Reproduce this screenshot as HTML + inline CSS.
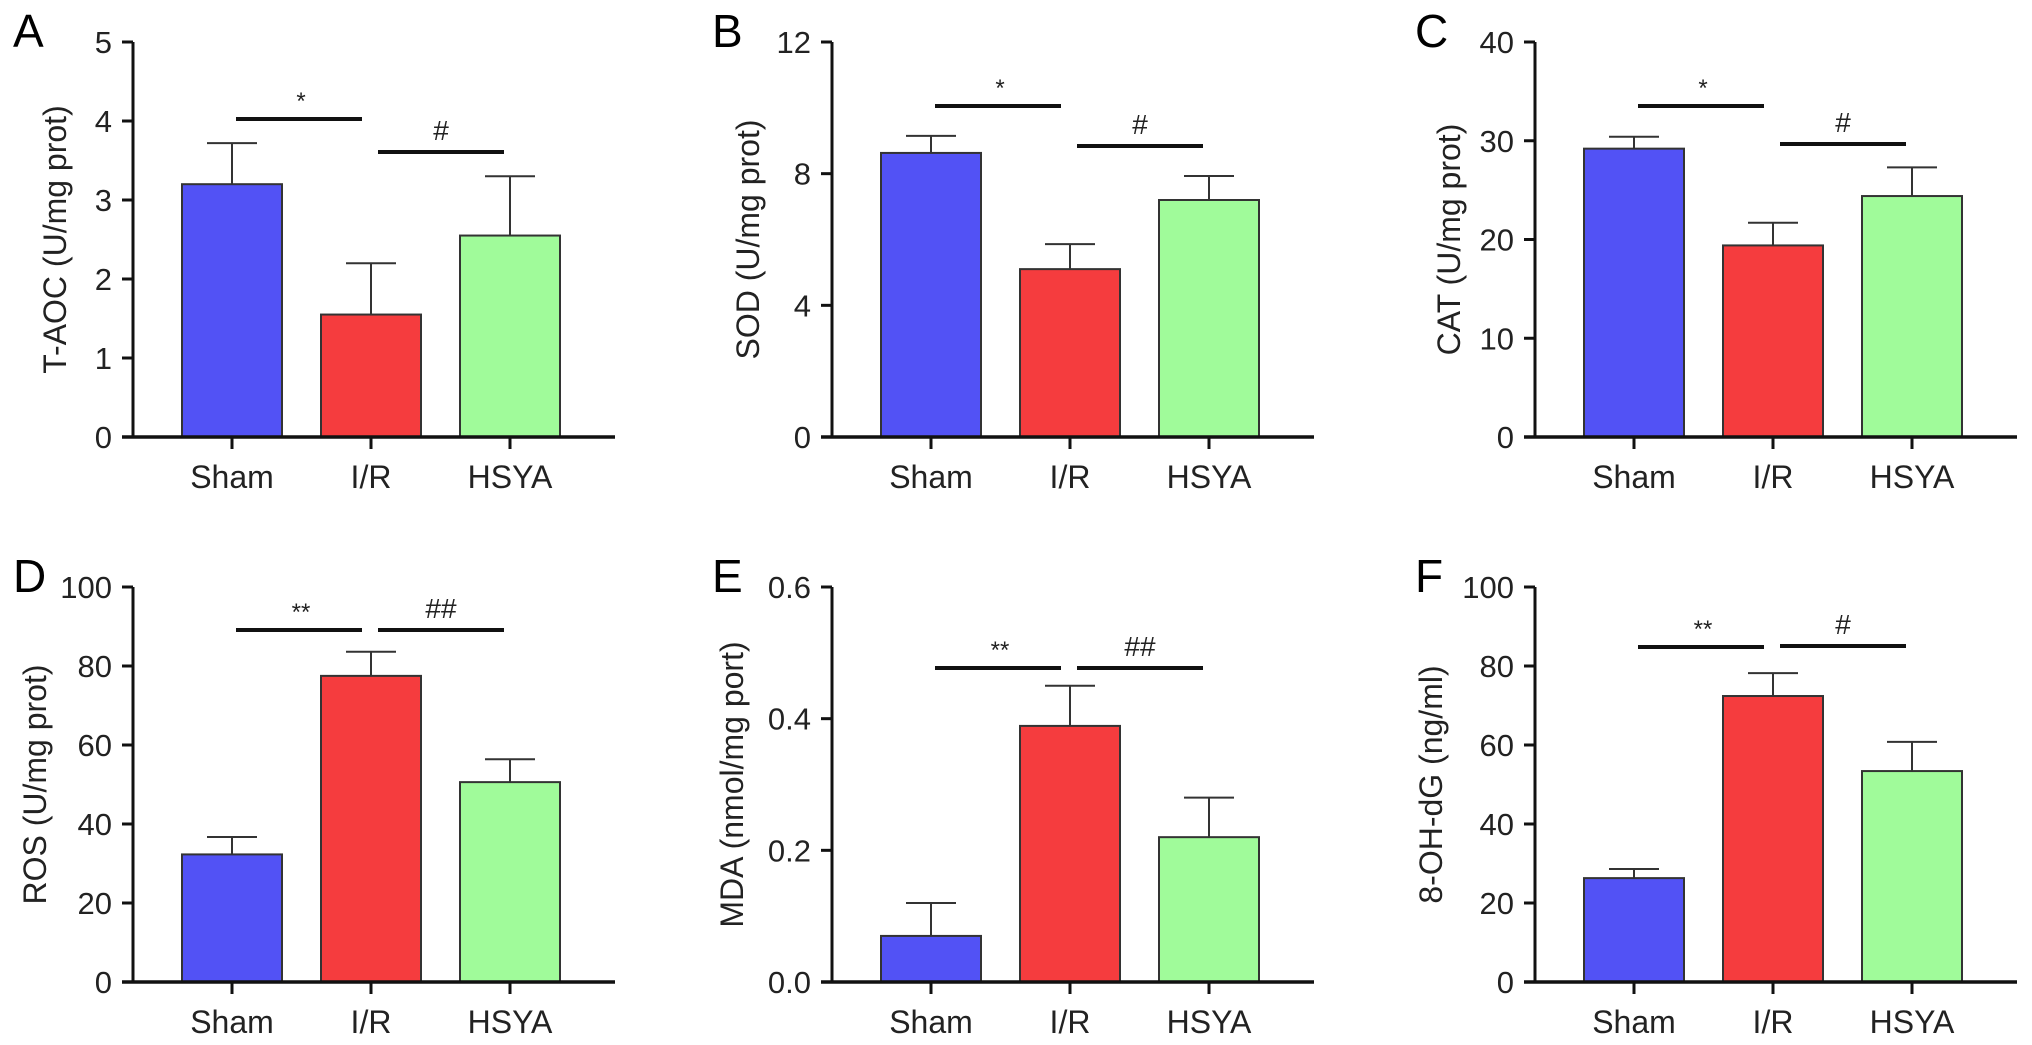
<!DOCTYPE html>
<html><head><meta charset="utf-8"><style>
html,body{margin:0;padding:0;background:#fff;}
svg{display:block;font-family:"Liberation Sans",Arial,sans-serif;}
</style></head><body>
<svg id="fig" width="2032" height="1045" viewBox="0 0 2032 1045" xmlns="http://www.w3.org/2000/svg"></svg>
<script>
const categories = ["Sham", "I/R", "HSYA"];
const panelLetters = ["A", "B", "C", "D", "E", "F"];
const axisTitles = ["T-AOC (U/mg prot)", "SOD (U/mg prot)", "CAT (U/mg prot)", "ROS (U/mg prot)", "MDA (nmol/mg port)", "8-OH-dG (ng/ml)"];
const yMaxes = [5, 12, 40, 100, 0.6, 100];
const tickLabelsA = ["0", "1", "2", "3", "4", "5"];
const tickLabelsB = ["0", "4", "8", "12"];
const tickLabelsC = ["0", "10", "20", "30", "40"];
const tickLabelsD = ["0", "20", "40", "60", "80", "100"];
const tickLabelsE = ["0.0", "0.2", "0.4", "0.6"];
const tickLabelsF = ["0", "20", "40", "60", "80", "100"];
const meansA = [3.2, 1.55, 2.55];
const errA = [3.72, 2.2, 3.3];
const meansB = [8.63, 5.1, 7.2];
const errB = [9.15, 5.86, 7.93];
const meansC = [29.2, 19.4, 24.4];
const errC = [30.4, 21.7, 27.3];
const meansD = [32.3, 77.5, 50.6];
const errD = [36.7, 83.6, 56.4];
const meansE = [0.07, 0.389, 0.22];
const errE = [0.12, 0.45, 0.28];
const meansF = [26.3, 72.4, 53.4];
const errF = [28.6, 78.2, 60.8];
const sigLeft = ["*", "*", "*", "**", "**", "**"];
const sigRight = ["#", "#", "#", "##", "##", "#"];

const tickSets = [tickLabelsA, tickLabelsB, tickLabelsC, tickLabelsD, tickLabelsE, tickLabelsF];
const meanSets = [meansA, meansB, meansC, meansD, meansE, meansF];
const errSets = [errA, errB, errC, errD, errE, errF];
const colors = ["#5252F5", "#F53C3E", "#A0FB9A"];
const axisX = [133, 832, 1535];
const zeroY = [437, 982];
const plotH = 395;
const titleOff = [-78, -84, -86, -98, -100, -104];
const sigY = [[119, 152], [106, 146], [106, 144], [630, 630], [668, 668], [647, 646]];

const NS = "http://www.w3.org/2000/svg";
const svg = document.getElementById("fig");
function mk(tag, attrs, parent) {
  const e = document.createElementNS(NS, tag);
  for (const k in attrs) e.setAttribute(k, attrs[k]);
  (parent || svg).appendChild(e);
  return e;
}

for (let p = 0; p < 6; p++) {
  const ax = axisX[p % 3];
  const y0 = zeroY[Math.floor(p / 3)];
  const ymax = yMaxes[p];
  const yS = v => y0 - v / ymax * plotH;
  const xC = i => ax + 99 + i * 139;
  const g = mk("g", {});
  
  

  const letter = mk("text", {x: ax - 120, y: y0 - 390, "font-size": 46}, g);
  letter.textContent = panelLetters[p];
  
  

  meanSets[p].forEach((v, i) => {
    const r = mk("rect", {x: xC(i) - 50, y: yS(v), width: 100, height: y0 - yS(v), fill: colors[i], stroke: "#333", "stroke-width": 2}, g);
    
    
    const e = errSets[p][i];
    const eb = mk("path", {d: `M${xC(i)} ${yS(v)}V${yS(e)}M${xC(i) - 25} ${yS(e)}H${xC(i) + 25}`, stroke: "#333", "stroke-width": 2, fill: "none"}, g);
    
    
  });

  const ya = mk("path", {d: `M${ax} ${y0 - plotH}V${y0 + 1}`, stroke: "#111", "stroke-width": 3, fill: "none"}, g);
  
  
  const ticks = tickSets[p];
  ticks.forEach((t, k) => {
    const ty = y0 - k / (ticks.length - 1) * plotH;
    const tk = mk("path", {d: `M${ax - 11} ${ty}H${ax}`, stroke: "#111", "stroke-width": 3}, g);
    
    
    const tl = mk("text", {x: ax - 21, y: ty + 11, "font-size": 31, "text-anchor": "end", fill: "#222"}, g);
    tl.textContent = t;
    
    
  });
  const xa = mk("path", {d: `M${ax - 11} ${y0}H${ax + 482}`, stroke: "#111", "stroke-width": 3.5}, g);
  
  
  categories.forEach((c, i) => {
    const tk = mk("path", {d: `M${xC(i)} ${y0}V${y0 + 12}`, stroke: "#111", "stroke-width": 3}, g);
    
    
    const tl = mk("text", {x: xC(i), y: y0 + 51, "font-size": 32, "text-anchor": "middle", fill: "#222"}, g);
    tl.textContent = c;
    
    
  });
  const ty = y0 - plotH / 2;
  const tt = mk("text", {x: ax + titleOff[p], y: ty, "font-size": 32, "text-anchor": "middle", fill: "#222", transform: `rotate(-90 ${ax + titleOff[p]} ${ty})`, "dominant-baseline": "central"}, g);
  tt.textContent = axisTitles[p];
  
  

  const [s1, s2] = sigY[p];
  const l1 = mk("path", {d: `M${ax + 103} ${s1}H${ax + 229}`, stroke: "#111", "stroke-width": 4}, g);
  
  
  const t1 = mk("text", {x: ax + 168, y: s1 - 10, "font-size": 24, "text-anchor": "middle", fill: "#222"}, g);
  t1.textContent = sigLeft[p];
  
  
  const l2 = mk("path", {d: `M${ax + 245} ${s2}H${ax + 371}`, stroke: "#111", "stroke-width": 4}, g);
  
  
  const t2 = mk("text", {x: ax + 308, y: s2 - 12, "font-size": 28, "text-anchor": "middle", fill: "#222"}, g);
  t2.textContent = sigRight[p];
  
  
}
</script>
</body></html>
